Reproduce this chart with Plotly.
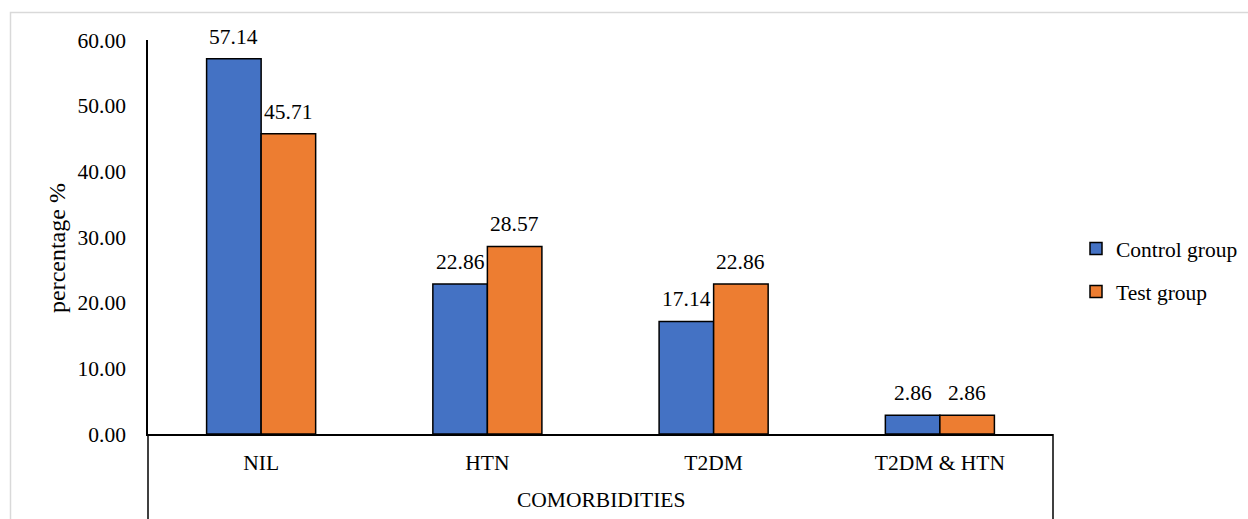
import plotly.graph_objects as go

categories = ["NIL", "HTN", "T2DM", "T2DM & HTN"]
control_group = [57.14, 22.86, 17.14, 2.86]
test_group = [45.71, 28.57, 22.86, 2.86]
y_ticks = [0, 10, 20, 30, 40, 50, 60]

FONT = "Liberation Serif, Times New Roman, serif"
FS = 21.5
W, H = 1248, 519
ML, MR, MT, MB = 148, 195, 40, 85
plot_w = W - ML - MR
plot_h = H - MT - MB
BAR_PX = 54.5

series = [("Control group", control_group, "#4472C4", -1),
          ("Test group", test_group, "#ED7D31", 1)]

fig = go.Figure()
annotations = []
for name, vals, color, side in series:
    fig.add_trace(go.Bar(
        x=categories, y=vals, name=name, legendgroup=name,
        marker=dict(color=color, line=dict(color="#000000", width=1.5)),
        cliponaxis=False,
    ))
    # value labels above each bar
    for cat, v in zip(categories, vals):
        annotations.append(dict(
            x=cat, y=v, xref="x", yref="y", text=f"{v:.2f}",
            xshift=side * BAR_PX / 2, yshift=8, yanchor="bottom",
            showarrow=False, font=dict(family=FONT, size=FS, color="#000000")))

annotations.append(dict(text="COMORBIDITIES", xref="paper", yref="paper",
                        x=0.5, y=-(500 - MT - plot_h) / plot_h,
                        yanchor="middle", showarrow=False,
                        font=dict(family=FONT, size=FS, color="#000000")))
# value-axis title
annotations.append(dict(text="percentage %", xref="paper", yref="paper",
                        x=(57 - ML) / plot_w, y=(H - MB - 248) / plot_h,
                        xanchor="center", yanchor="middle", textangle=-90,
                        showarrow=False,
                        font=dict(family=FONT, size=24, color="#000000")))

# extension of the category-axis division lines below the baseline
below = -MB / plot_h
shapes = [
    dict(type="line", xref="paper", yref="paper", x0=0, x1=0, y0=below, y1=0,
         line=dict(color="#000000", width=1.5)),
    dict(type="line", xref="paper", yref="paper", x0=1, x1=1, y0=below, y1=0,
         line=dict(color="#000000", width=1.5)),
    # outer chart frame
    dict(type="rect", xref="paper", yref="paper",
         x0=(10.5 - ML) / plot_w, x1=(W + 5 - ML) / plot_w,
         y0=-(MB + 20) / plot_h, y1=(plot_h + MT - 12.5) / plot_h,
         line=dict(color="#D9D9D9", width=1.5), layer="below"),
]

fig.update_layout(
    width=W, height=H,
    margin=dict(l=ML, r=MR, t=MT, b=MB, autoexpand=False),
    paper_bgcolor="white", plot_bgcolor="white",
    font=dict(family=FONT, size=FS, color="#000000"),
    barmode="group", bargap=0.518, bargroupgap=0,
    showlegend=True,
    legend=dict(x=(1076 - ML) / plot_w, y=(H - MB - 270) / plot_h,
                xanchor="left", yanchor="middle",
                traceorder="grouped", tracegroupgap=12,
                font=dict(family=FONT, size=FS), itemwidth=30,
                bgcolor="rgba(0,0,0,0)"),
    shapes=shapes,
    annotations=annotations,
    xaxis=dict(showline=True, linecolor="#000000", linewidth=1.5,
               ticks="", showgrid=False, ticklabelstandoff=8,
               tickfont=dict(family=FONT, size=FS)),
    yaxis=dict(range=[0, 60], tickvals=y_ticks,
               ticktext=[f"{v:.2f}" for v in y_ticks],
               showline=True, linecolor="#000000", linewidth=1.5,
               ticks="", showgrid=False, zeroline=False,
               ticklabelstandoff=16,
               tickfont=dict(family=FONT, size=FS)),
)

fig.write_html("out.html")
